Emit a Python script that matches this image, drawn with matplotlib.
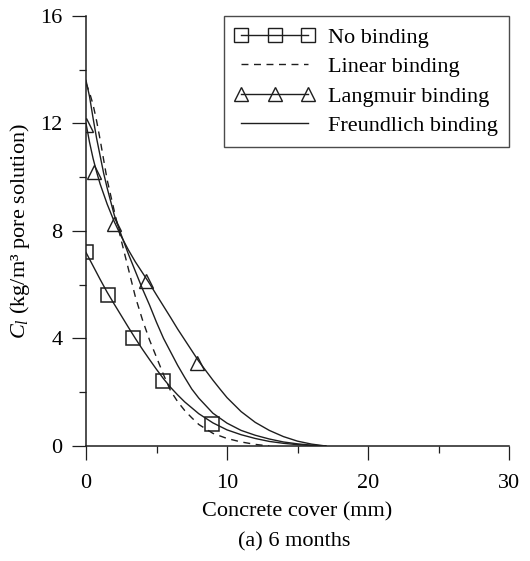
import matplotlib
matplotlib.use("Agg")
import matplotlib.pyplot as plt
from matplotlib.lines import Line2D
from matplotlib.ticker import MultipleLocator

plt.rcParams['font.family'] = ['Liberation Serif', 'DejaVu Serif']
plt.rcParams['mathtext.fontset'] = 'custom'
plt.rcParams['mathtext.rm'] = 'Liberation Serif'
plt.rcParams['mathtext.it'] = 'Liberation Serif:italic'

# Curves
x_no_binding = [0, 0.5, 1, 1.5, 2, 2.5, 3, 3.5, 4, 4.5, 5, 5.5, 6, 6.5, 7, 7.5, 8,
                9, 10, 11, 12, 13, 14, 15, 16, 17]
no_binding_curve = [7.2, 6.7, 6.2, 5.72, 5.28, 4.85, 4.42, 4.0, 3.6, 3.22, 2.85, 2.5,
                    2.18, 1.9, 1.64, 1.42, 1.2, 0.86, 0.6, 0.42, 0.28, 0.17, 0.1,
                    0.05, 0.02, 0.0]

x_linear = [0, 0.25, 0.5, 0.75, 1, 1.25, 1.5, 2, 2.5, 3, 3.5, 4, 4.5, 5, 5.5, 6,
            6.5, 7, 7.5, 8, 9, 10, 11, 12, 13]
linear_curve = [13.5, 13.15, 12.7, 12.1, 11.4, 10.65, 9.9, 8.75, 7.65, 6.6, 5.55,
                4.7, 3.95, 3.3, 2.65, 2.05, 1.65, 1.32, 1.05, 0.8, 0.47, 0.28,
                0.15, 0.06, 0.0]

x_langmuir = [0, 0.25, 0.5, 0.75, 1, 1.5, 2, 2.5, 3, 3.5, 4, 4.5, 5, 5.5, 6, 6.5,
              7, 7.5, 8, 8.5, 9, 9.5, 10, 11, 12, 13, 14, 15, 16, 17]
langmuir_curve = [12.0, 11.3, 10.7, 10.2, 9.75, 9.0, 8.35, 7.8, 7.3, 6.85, 6.45,
                  6.05, 5.62, 5.2, 4.78, 4.35, 3.95, 3.55, 3.15, 2.8, 2.45, 2.12,
                  1.8, 1.28, 0.88, 0.58, 0.35, 0.18, 0.07, 0.0]

x_freundlich = [0, 0.25, 0.5, 0.75, 1, 1.25, 1.5, 2, 2.5, 3, 3.5, 4, 4.5, 5, 5.5,
                6, 6.5, 7, 7.5, 8, 9, 10, 11, 12, 13, 14, 15, 16, 17]
freundlich_curve = [13.6, 13.0, 12.2, 11.45, 10.8, 10.15, 9.6, 8.6, 7.85, 7.15,
                    6.5, 5.85, 5.25, 4.6, 4.0, 3.5, 3.0, 2.55, 2.12, 1.78, 1.22,
                    0.85, 0.58, 0.4, 0.26, 0.15, 0.08, 0.03, 0.0]

# Markers
x_no_binding_pts = [0, 1.58, 3.31, 5.44, 8.94]
y_no_binding_pts = [7.23, 5.62, 4.03, 2.42, 0.82]
x_langmuir_pts = [0, 0.59, 2.0, 4.25, 7.85]
y_langmuir_pts = [11.94, 10.18, 8.26, 6.15, 3.08]

labels = ["No binding", "Linear binding", "Langmuir binding", "Freundlich binding"]

fig = plt.figure(figsize=(5.30, 5.61), dpi=100)
ax = fig.add_axes([0.1623, 0.205, 0.7981, 0.7665])

lc = '#1e1e1e'
lw = 1.0
dash = (0, (5, 4))
sq_ms = 9.5
tri_ms = 10.5

ax.plot(x_no_binding, no_binding_curve, color=lc, lw=lw)
ax.plot(x_no_binding_pts, y_no_binding_pts, ls='none', marker='s', ms=sq_ms,
        mfc='none', mec=lc, mew=1.1)
ax.plot(x_linear, linear_curve, color=lc, lw=lw, ls=dash)
ax.plot(x_langmuir, langmuir_curve, color=lc, lw=lw)
ax.plot(x_langmuir_pts, y_langmuir_pts, ls='none', marker='^', ms=tri_ms,
        mfc='none', mec=lc, mew=1.0)
ax.plot(x_freundlich, freundlich_curve, color=lc, lw=lw)

ax.set_xlim(0, 30)
ax.set_ylim(0, 16)
ax.xaxis.set_major_locator(MultipleLocator(10))
ax.xaxis.set_minor_locator(MultipleLocator(5))
ax.yaxis.set_major_locator(MultipleLocator(4))
ax.yaxis.set_minor_locator(MultipleLocator(2))
for s in ['top', 'right']:
    ax.spines[s].set_visible(False)
for s in ['left', 'bottom']:
    ax.spines[s].set_linewidth(1.1)
    ax.spines[s].set_color(lc)
ax.tick_params(which='major', direction='out', length=10, width=0.9, color=lc,
               labelsize=16)
ax.tick_params(which='minor', direction='out', length=5, width=0.9, color=lc)
ax.tick_params(axis='x', which='major', pad=10)
ax.tick_params(axis='y', which='major', pad=7)

ax.set_xlabel("Concrete cover (mm)", fontsize=16, labelpad=7)
ax.set_ylabel(r"$C_l$ (kg/m³ pore solution)", fontsize=16, labelpad=6)
fig.text(0.5555, 0.017, "(a) 6 months", ha='center', va='bottom', fontsize=16)

handles = [
    Line2D([], [], color=lc, lw=lw, marker='s', ms=sq_ms, mfc='none', mec=lc),
    Line2D([], [], color=lc, lw=lw, ls=dash),
    Line2D([], [], color=lc, lw=lw, marker='^', ms=tri_ms, mfc='none', mec=lc),
    Line2D([], [], color=lc, lw=lw),
]
leg = ax.legend(handles, labels, loc='upper right', bbox_to_anchor=(1.0, 1.0),
                fontsize=16, frameon=True, fancybox=False, edgecolor=lc,
                numpoints=3, handlelength=3.6, handletextpad=0.6,
                labelspacing=0.4, borderpad=0.5, borderaxespad=0.0)
leg.get_frame().set_linewidth(1.0)

fig.savefig("out.png", dpi=100)
